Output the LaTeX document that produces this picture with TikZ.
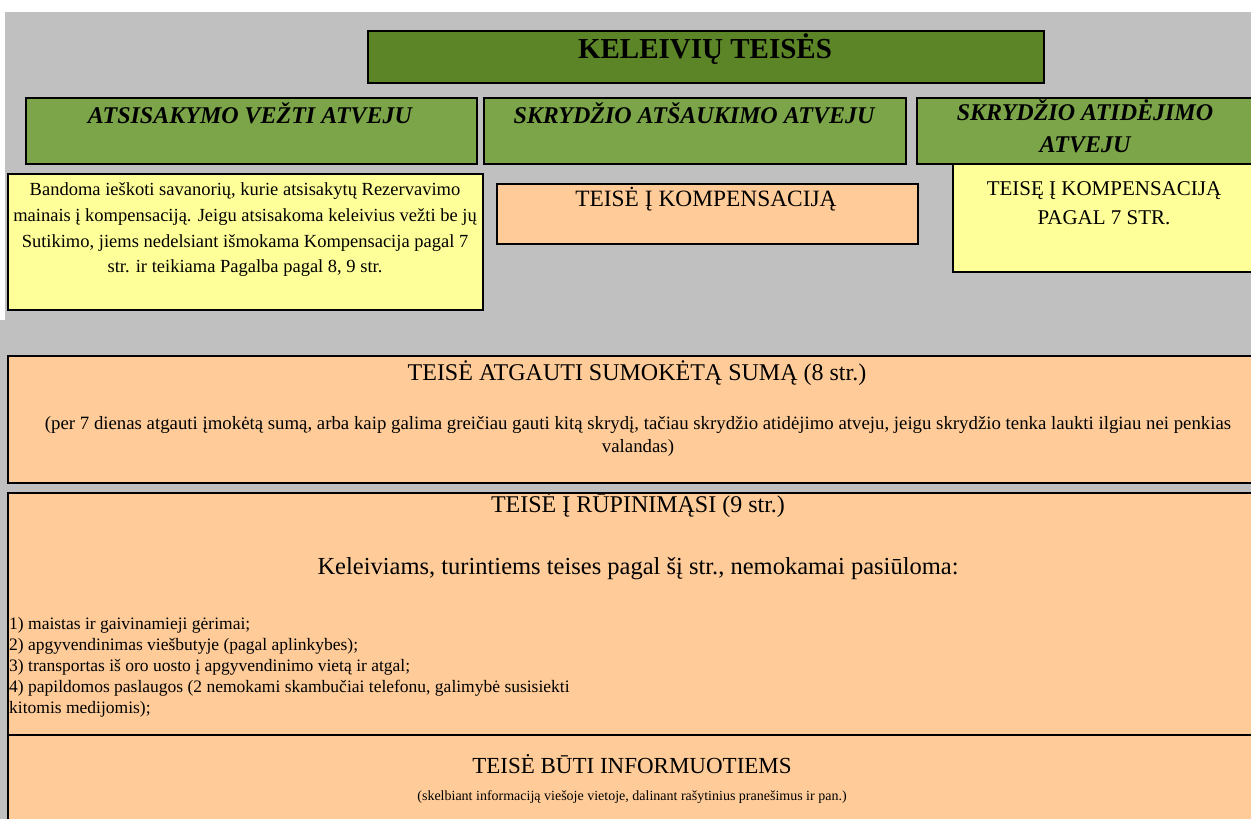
\documentclass[tikz,border=0pt]{standalone}
\usepackage{fontspec}
\setmainfont{Liberation Serif}
\newfontfamily\tnr{Liberation Serif}
\definecolor{bggray}{RGB}{192,192,192}
\definecolor{dkgreen}{RGB}{92,133,40}
\definecolor{ltgreen}{RGB}{123,165,72}
\definecolor{ylw}{RGB}{255,255,153}
\definecolor{org}{RGB}{255,204,153}
\newcommand{\fs}[1]{\tnr\fontsize{#1}{#1}\selectfont}
\begin{document}
\begin{tikzpicture}[x=1pt,y=-1pt,
  box/.style={draw=black, line width=1.5pt, rectangle, inner sep=0pt, anchor=north west},
  bigbox/.style={draw=black, line width=1.8pt, rectangle, inner sep=0pt, anchor=north west, fill=org},
  txt/.style={anchor=base, inner sep=0pt},
  ltxt/.style={anchor=base west, inner sep=0pt}]
\useasboundingbox (0,0) rectangle (1251,819);
\clip (0,0) rectangle (1251,819);
\fill[bggray] (5,12) rectangle (1251,819);
\fill[bggray] (0,320) rectangle (5,819);

% title
\node[box, fill=dkgreen, minimum width=676pt, minimum height=52pt] (title) at (367,30) {};
\node[txt, font=\fs{29}\bfseries] (titletxt) at (705,58) {KELEIVIŲ TEISĖS};

% green headers
\node[box, fill=ltgreen, minimum width=451pt, minimum height=66pt] (hA) at (25,97) {};
\node[box, fill=ltgreen, minimum width=422pt, minimum height=66pt] (hB) at (483,97) {};
\node[box, fill=ltgreen, minimum width=350pt, minimum height=66pt] (hC) at (916,97) {};
\node[txt, font=\fs{24}\bfseries\itshape] (hAt) at (250,123) {ATSISAKYMO VEŽTI ATVEJU};
\node[txt, font=\fs{24}\bfseries\itshape] (hBt) at (694,123) {SKRYDŽIO ATŠAUKIMO ATVEJU};
\node[txt, font=\fs{24}\bfseries\itshape] (hCt1) at (1085,120) {SKRYDŽIO ATIDĖJIMO};
\node[txt, font=\fs{24}\bfseries\itshape] (hCt2) at (1085,152) {ATVEJU};

% yellow A
\node[box, fill=ylw, minimum width=475pt, minimum height=136pt] (yA) at (7,173) {};
\node[txt, font=\fs{18.5}] (yA1) at (245,195) {Bandoma ieškoti savanorių, kurie atsisakytų Rezervavimo};
\node[txt, font=\fs{18.5}] (yA2) at (245,221) {mainais į kompensaciją. Jeigu atsisakoma keleivius vežti be jų};
\node[txt, font=\fs{18.5}] (yA3) at (245,247) {Sutikimo, jiems nedelsiant išmokama Kompensacija pagal 7};
\node[txt, font=\fs{18.5}] (yA4) at (245,272) {str. ir teikiama Pagalba pagal 8, 9 str.};

% orange B
\node[box, fill=org, minimum width=421pt, minimum height=60pt] (oB) at (496,183) {};
\node[txt, font=\fs{23.4}] (oBt) at (706,206) {TEISĖ Į KOMPENSACIJĄ};

% yellow C
\node[box, fill=ylw, minimum width=310pt, minimum height=108pt] (yC) at (952,163) {};
\node[txt, font=\fs{21}] (yC1) at (1104,195) {TEISĘ Į KOMPENSACIJĄ};
\node[txt, font=\fs{21}] (yC2) at (1104,224) {PAGAL 7 STR.};

% big box 1
\node[bigbox, minimum width=1263pt, minimum height=127pt] (b1) at (7,355) {};
\node[txt, font=\fs{24}] (b1t) at (637,380) {TEISĖ ATGAUTI SUMOKĖTĄ SUMĄ (8 str.)};
\node[txt, font=\fs{18.8}] (b1p1) at (638,429) {(per 7 dienas atgauti įmokėtą sumą, arba kaip galima greičiau gauti kitą skrydį, tačiau skrydžio atidėjimo atveju, jeigu skrydžio tenka laukti ilgiau nei penkias};
\node[txt, font=\fs{18.8}] (b1p2) at (638,452) {valandas)};

% big box 2
\node[bigbox, minimum width=1263pt, minimum height=242pt] (b2) at (7,492) {};
\node[txt, font=\fs{24}] (b2t) at (638,512) {TEISĖ Į RŪPINIMĄSI (9 str.)};
\node[txt, font=\fs{24.5}] (b2s) at (638,574) {Keleiviams, turintiems teises pagal šį str., nemokamai pasiūloma:};
\node[ltxt, font=\fs{17.5}] (b2l1) at (9,629) {1) maistas ir gaivinamieji gėrimai;};
\node[ltxt, font=\fs{17.5}] (b2l2) at (9,650) {2) apgyvendinimas viešbutyje (pagal aplinkybes);};
\node[ltxt, font=\fs{17.5}] (b2l3) at (9,671) {3) transportas iš oro uosto į apgyvendinimo vietą ir atgal;};
\node[ltxt, font=\fs{17.5}] (b2l4) at (9,692) {4) papildomos paslaugos (2 nemokami skambučiai telefonu, galimybė susisiekti};
\node[ltxt, font=\fs{17.5}] (b2l5) at (9,713) {kitomis medijomis);};

% big box 3
\node[bigbox, minimum width=1263pt, minimum height=120pt] (b3) at (7,734) {};
\node[txt, font=\fs{23}] (b3t) at (632,773) {TEISĖ BŪTI INFORMUOTIEMS};
\node[txt, font=\fs{14}] (b3s) at (632,800) {(skelbiant informaciją viešoje vietoje, dalinant rašytinius pranešimus ir pan.)};
\end{tikzpicture}
\end{document}
